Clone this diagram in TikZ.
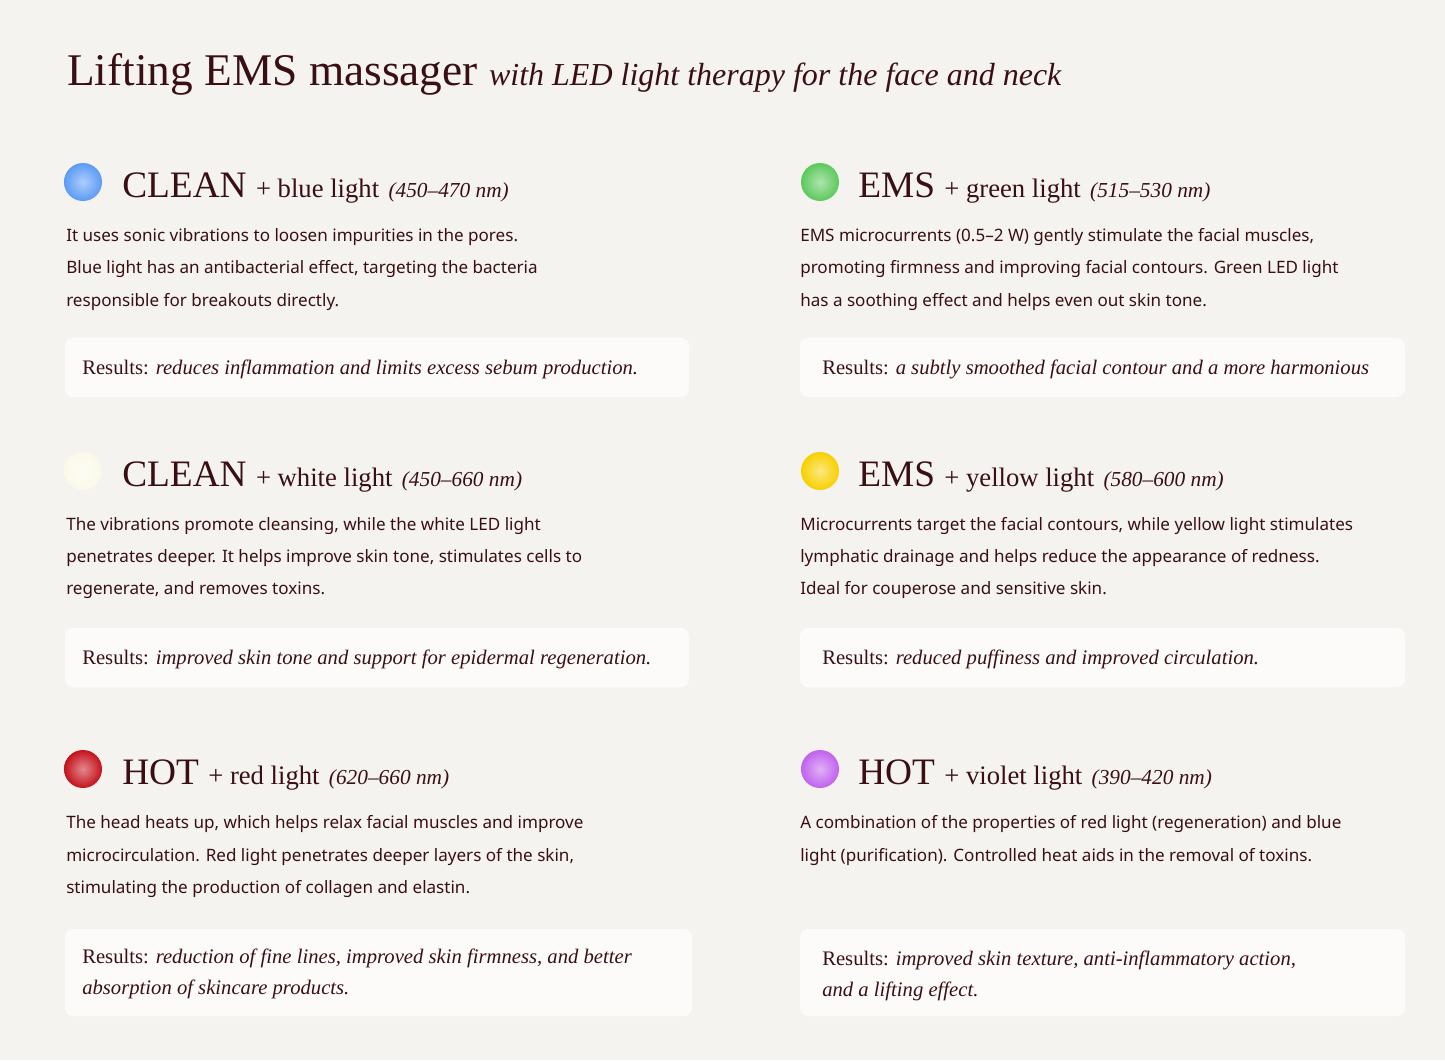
\documentclass[tikz,border=0pt]{standalone}
\usepackage{fontspec}
\setmainfont{Liberation Serif}
\newfontfamily\bodyfont{Noto Sans}
\definecolor{bg}{HTML}{F4F3EF}
\definecolor{ink}{HTML}{3A0F14}
\definecolor{boxc}{HTML}{FCFBF9}
\definecolor{cblue}{HTML}{5B9BF5}
\definecolor{cgreen}{HTML}{5CC95C}
\definecolor{cwhite}{HTML}{FBF9E8}
\definecolor{cyellow}{HTML}{F7D000}
\definecolor{cred}{HTML}{C4121C}
\definecolor{cviolet}{HTML}{C062EE}
\tikzset{
 txt/.style={anchor=base west,inner sep=0pt,text=ink},
 body/.style={txt,font=\bodyfont\fontsize{12.8}{14}\selectfont},
 res/.style={txt,font=\fontsize{15.5}{18}\selectfont},
 head/.style={txt,font=\fontsize{28}{30}\selectfont},
 resbox/.style={fill=boxc,rounded corners=6pt},
}
\newcommand{\plus}[1]{{\fontsize{20}{22}\selectfont #1}}
\newcommand{\nm}[1]{{\fontsize{16}{18}\selectfont\itshape #1}}
\newcommand{\ledDot}[3]{\shade[inner color=#3!50!white,outer color=#3] (#1,#2) circle (19);}
\begin{document}
\begin{tikzpicture}[x=0.75pt,y=-0.75pt]
\fill[bg] (0,0) rectangle (1445,1060);
\useasboundingbox (0,0) rectangle (1445,1060);
\node[txt,font=\fontsize{34}{36}\selectfont] (title) at (67,85) {Lifting EMS massager {\fontsize{24}{30}\selectfont\itshape with LED light therapy for the face and neck}};
% circles
\ledDot{83}{182}{cblue}\ledDot{820}{182}{cgreen}
\ledDot{83}{471}{cwhite}\ledDot{820}{471}{cyellow}
\ledDot{83}{769}{cred}\ledDot{820}{769}{cviolet}
% boxes
\fill[resbox] (65,338) rectangle (689,397);
\fill[resbox] (800,338) rectangle (1405,397);
\fill[resbox] (65,628) rectangle (689,687);
\fill[resbox] (800,628) rectangle (1405,687);
\fill[resbox] (65,929) rectangle (692,1016);
\fill[resbox] (800,929) rectangle (1405,1016);
% row 1 left
\node[head] (h1) at (122,197) {CLEAN \plus{+ blue light} \nm{(450–470 nm)}};
\node[body] (b1a) at (66,241) {It uses sonic vibrations to loosen impurities in the pores.};
\node[body] (b1b) at (66,273) {Blue light has an antibacterial effect, targeting the bacteria};
\node[body] (b1c) at (66,306) {responsible for breakouts directly.};
\node[res] (r1) at (82,374) {Results: \textit{reduces inflammation and limits excess sebum production.}};
% row 1 right
\node[head] (h2) at (858,197) {EMS \plus{+ green light} \nm{(515–530 nm)}};
\node[body] (b2a) at (800,241) {EMS microcurrents (0.5–2 W) gently stimulate the facial muscles,};
\node[body] (b2b) at (800,273) {promoting firmness and improving facial contours. Green LED light};
\node[body] (b2c) at (800,306) {has a soothing effect and helps even out skin tone.};
\node[res] (r2) at (822,374) {Results: \textit{a subtly smoothed facial contour and a more harmonious}};
% row 2 left
\node[head] (h3) at (122,486) {CLEAN \plus{+ white light} \nm{(450–660 nm)}};
\node[body] (b3a) at (66,530) {The vibrations promote cleansing, while the white LED light};
\node[body] (b3b) at (66,562) {penetrates deeper. It helps improve skin tone, stimulates cells to};
\node[body] (b3c) at (66,594) {regenerate, and removes toxins.};
\node[res] (r3) at (82,664) {Results: \textit{improved skin tone and support for epidermal regeneration.}};
% row 2 right
\node[head] (h4) at (858,486) {EMS \plus{+ yellow light} \nm{(580–600 nm)}};
\node[body] (b4a) at (800,530) {Microcurrents target the facial contours, while yellow light stimulates};
\node[body] (b4b) at (800,562) {lymphatic drainage and helps reduce the appearance of redness.};
\node[body] (b4c) at (800,594) {Ideal for couperose and sensitive skin.};
\node[res] (r4) at (822,664) {Results: \textit{reduced puffiness and improved circulation.}};
% row 3 left
\node[head] (h5) at (122,784) {HOT \plus{+ red light} \nm{(620–660 nm)}};
\node[body] (b5a) at (66,828) {The head heats up, which helps relax facial muscles and improve};
\node[body] (b5b) at (66,861) {microcirculation. Red light penetrates deeper layers of the skin,};
\node[body] (b5c) at (66,893) {stimulating the production of collagen and elastin.};
\node[res] (r5a) at (82,963) {Results: \textit{reduction of fine lines, improved skin firmness, and better}};
\node[res] (r5b) at (82,994) {\textit{absorption of skincare products.}};
% row 3 right
\node[head] (h6) at (858,784) {HOT \plus{+ violet light} \nm{(390–420 nm)}};
\node[body] (b6a) at (800,828) {A combination of the properties of red light (regeneration) and blue};
\node[body] (b6b) at (800,861) {light (purification). Controlled heat aids in the removal of toxins.};
\node[res] (r6a) at (822,965) {Results: \textit{improved skin texture, anti-inflammatory action,}};
\node[res] (r6b) at (822,996) {\textit{and a lifting effect.}};
\end{tikzpicture}
\end{document}
